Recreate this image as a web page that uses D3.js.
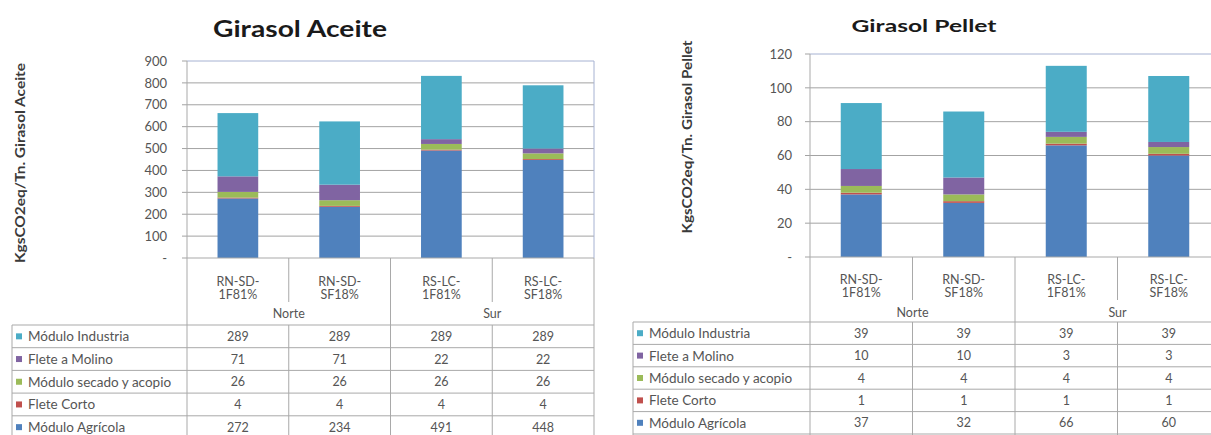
<!DOCTYPE html>
<html><head><meta charset="utf-8">
<script src="https://cdn.jsdelivr.net/npm/d3@7"></script>
<style>
body{margin:0;background:#fff}
svg{display:block;font-family:Lato,'Open Sans',sans-serif}
</style>
</head><body>
<svg id="c" width="1211" height="435"></svg>
<script>
// ---- data ----
const seriesNames = ["Módulo Agrícola","Flete Corto","Módulo secado y acopio","Flete a Molino","Módulo Industria"];
const seriesColors = ["#4F81BD","#C0504D","#9BBB59","#8064A2","#4BACC6"];
const categoryLine1 = ["RN-SD-","RN-SD-","RS-LC-","RS-LC-"];
const categoryLine2 = ["1F81%","SF18%","1F81%","SF18%"];
const groupNames = ["Norte","Sur"];
const groupSizes = [2,2];

const aceiteAgricola = [272,234,491,448];
const aceiteFleteCorto = [4,4,4,4];
const aceiteSecado = [26,26,26,26];
const aceiteFleteMolino = [71,71,22,22];
const aceiteIndustria = [289,289,289,289];
const aceiteTicks = [0,100,200,300,400,500,600,700,800,900];
const aceiteTickLabels = ["-","100","200","300","400","500","600","700","800","900"];

const pelletAgricola = [37,32,66,60];
const pelletFleteCorto = [1,1,1,1];
const pelletSecado = [4,4,4,4];
const pelletFleteMolino = [10,10,3,3];
const pelletIndustria = [39,39,39,39];
const pelletTicks = [0,20,40,60,80,100,120];
const pelletTickLabels = ["-","20","40","60","80","100","120"];

const svg = d3.select("#c");

function draw(cfg){
  const g = svg.append("g");
  const n = categoryLine1.length;
  const x = d3.scaleBand().domain(d3.range(n)).range([cfg.plotL, cfg.plotR]).paddingInner(0.6).paddingOuter(0.3);
  const y = d3.scaleLinear().domain([0, cfg.ticks[cfg.ticks.length-1]]).range([cfg.plotB, cfg.plotT]);
  const step = x.step();

  // title
  g.append("text").attr("x", cfg.titleX).attr("y", cfg.titleY).attr("text-anchor","middle")
    .attr("dominant-baseline","central").attr("font-weight","bold").attr("font-size", cfg.titleSize)
    .attr("fill","#1a1a1a").attr("textLength", cfg.titleLen).attr("lengthAdjust","spacingAndGlyphs")
    .text(cfg.title);

  // y label
  g.append("text").attr("transform", `translate(${cfg.ylabX},${cfg.ylabY}) rotate(-90)`)
    .attr("text-anchor","middle").attr("dominant-baseline","central").attr("font-size", 13)
    .attr("font-weight","bold").attr("fill","#3a3a3a")
    .attr("textLength", cfg.ylabLen).attr("lengthAdjust","spacingAndGlyphs").text(cfg.ylabel);

  // gridlines
  g.append("g").selectAll("line").data(cfg.ticks.slice(1, -1)).join("line")
    .attr("x1", cfg.plotL - 5).attr("x2", cfg.plotR)
    .attr("y1", d => y(d)).attr("y2", d => y(d))
    .attr("stroke","#a3a3a3").attr("stroke-width",1);
  g.append("g").selectAll("line").data([cfg.ticks[0], cfg.ticks[cfg.ticks.length-1]]).join("line")
    .attr("x1", cfg.plotL - 5).attr("x2", cfg.plotL)
    .attr("y1", d => y(d)).attr("y2", d => y(d)).attr("stroke","#a3a3a3");

  // y axis labels
  const ax = d3.axisLeft(y).tickValues(cfg.ticks).tickFormat((d,i)=>cfg.tickLabels[i]).tickSize(0).tickPadding(cfg.tickPad);
  const axg = g.append("g").attr("transform", `translate(${cfg.plotL},0)`).call(ax);
  axg.select(".domain").remove();
  axg.selectAll("text").attr("font-size", 13).attr("fill","#555").attr("font-family","Lato,'Open Sans',sans-serif");

  // plot border top
  g.append("line").attr("x1", cfg.plotL).attr("x2", cfg.plotR).attr("y1", y(cfg.ticks[cfg.ticks.length-1])).attr("y2", y(cfg.ticks[cfg.ticks.length-1]))
    .attr("stroke","#a6b2d2");

  // stacked bars
  const rows = d3.range(n).map(i => {
    const o = {i};
    seriesNames.forEach((s,k) => o[s] = cfg.values[k][i]);
    return o;
  });
  const stacked = d3.stack().keys(seriesNames)(rows);
  g.append("g").selectAll("g").data(stacked).join("g")
    .attr("fill", (d,k) => seriesColors[k])
    .selectAll("rect").data(d => d).join("rect")
    .attr("x", d => x(d.data.i)).attr("width", x.bandwidth())
    .attr("y", d => y(d[1])).attr("height", d => y(d[0]) - y(d[1]));

  // axes lines
  const tableBottom = 440;
  const lineColor = "#a9a9a9";
  g.append("line").attr("x1", cfg.plotL).attr("x2", cfg.plotR).attr("y1", cfg.plotB).attr("y2", cfg.plotB).attr("stroke", lineColor);
  g.append("line").attr("x1", cfg.plotL).attr("x2", cfg.plotL).attr("y1", cfg.plotT).attr("y2", tableBottom).attr("stroke", lineColor);
  g.append("line").attr("x1", cfg.plotR).attr("x2", cfg.plotR).attr("y1", cfg.plotT).attr("y2", cfg.plotB).attr("stroke","#a6b2d2");
  g.append("line").attr("x1", cfg.plotR).attr("x2", cfg.plotR).attr("y1", cfg.plotB).attr("y2", tableBottom).attr("stroke", lineColor);

  // group boundaries
  const groupBounds = new Set();
  let acc = 0;
  groupSizes.forEach(s => { acc += s; groupBounds.add(acc); });
  for (let k = 1; k < n; k++) {
    const bx = cfg.plotL + k * step;
    if (groupBounds.has(k)) {
      g.append("line").attr("x1", bx).attr("x2", bx).attr("y1", cfg.plotB).attr("y2", tableBottom).attr("stroke", lineColor);
    } else {
      g.append("line").attr("x1", bx).attr("x2", bx).attr("y1", cfg.plotB).attr("y2", cfg.gapTop).attr("stroke", lineColor);
      g.append("line").attr("x1", bx).attr("x2", bx).attr("y1", cfg.rowTop).attr("y2", tableBottom).attr("stroke", lineColor);
    }
  }
  g.append("line").attr("x1", cfg.legendL).attr("x2", cfg.legendL).attr("y1", cfg.rowTop).attr("y2", tableBottom).attr("stroke", lineColor);
  g.append("g").selectAll("line").data(d3.range(seriesNames.length + 1)).join("line")
    .attr("x1", cfg.legendL).attr("x2", cfg.plotR)
    .attr("y1", j => cfg.rowTop + j * cfg.rowH).attr("y2", j => cfg.rowTop + j * cfg.rowH)
    .attr("stroke", lineColor);

  // category labels
  const cl = g.append("g").attr("font-size", 12.5).attr("fill","#555").attr("text-anchor","middle");
  cl.selectAll("text.l1").data(categoryLine1).join("text").attr("class","l1")
    .attr("x", (d,i) => x(i) + x.bandwidth()/2).attr("y", cfg.cat1Y).attr("dominant-baseline","central").text(d => d);
  cl.selectAll("text.l2").data(categoryLine2).join("text").attr("class","l2")
    .attr("x", (d,i) => x(i) + x.bandwidth()/2).attr("y", cfg.cat2Y).attr("dominant-baseline","central").text(d => d);
  let start = 0;
  groupNames.forEach((gn, gi) => {
    const x0 = cfg.plotL + start * step, x1 = cfg.plotL + (start + groupSizes[gi]) * step;
    cl.append("text").attr("x", (x0 + x1) / 2).attr("y", cfg.groupY).attr("dominant-baseline","central").text(gn);
    start += groupSizes[gi];
  });

  // table rows (top row = last series)
  const order = d3.range(seriesNames.length).reverse();
  order.forEach((k, j) => {
    const cy = cfg.rowTop + (j + 0.5) * cfg.rowH;
    g.append("rect").attr("x", cfg.legendL + 4).attr("y", cy - 3).attr("width", 6).attr("height", 6).attr("fill", seriesColors[k]);
    g.append("text").attr("x", cfg.legendL + 16).attr("y", cy).attr("dominant-baseline","central")
      .attr("font-size", cfg.legendSize).attr("fill","#555").text(seriesNames[k]);
    g.append("g").selectAll("text").data(cfg.values[k]).join("text")
      .attr("x", (d,i) => x(i) + x.bandwidth()/2).attr("y", cy).attr("dominant-baseline","central")
      .attr("text-anchor","middle").attr("font-size", 12.5).attr("fill","#555").text(d => d);
  });
}

draw({
  title: "Girasol Aceite", titleX: 300, titleY: 28, titleSize: 22, titleLen: 174,
  ylabel: "KgsCO2eq/Tn. Girasol Aceite", ylabX: 20, ylabY: 163, ylabLen: 200,
  plotL: 187, plotR: 594, plotT: 61, plotB: 258, tickPad: 20,
  ticks: aceiteTicks, tickLabels: aceiteTickLabels,
  values: [aceiteAgricola, aceiteFleteCorto, aceiteSecado, aceiteFleteMolino, aceiteIndustria],
  legendL: 12, rowTop: 325, rowH: 22.7, gapTop: 302, legendSize: 13.5,
  cat1Y: 281, cat2Y: 294, groupY: 313
});
draw({
  title: "Girasol Pellet", titleX: 924, titleY: 25, titleSize: 17, titleLen: 145,
  ylabel: "KgsCO2eq/Tn. Girasol Pellet", ylabX: 687, ylabY: 137, ylabLen: 193,
  plotL: 810, plotR: 1220, plotT: 54, plotB: 257, tickPad: 18,
  ticks: pelletTicks, tickLabels: pelletTickLabels,
  values: [pelletAgricola, pelletFleteCorto, pelletSecado, pelletFleteMolino, pelletIndustria],
  legendL: 633, rowTop: 322, rowH: 22.4, gapTop: 300, legendSize: 13.5,
  cat1Y: 279, cat2Y: 292, groupY: 312
});
</script>
</body></html>
